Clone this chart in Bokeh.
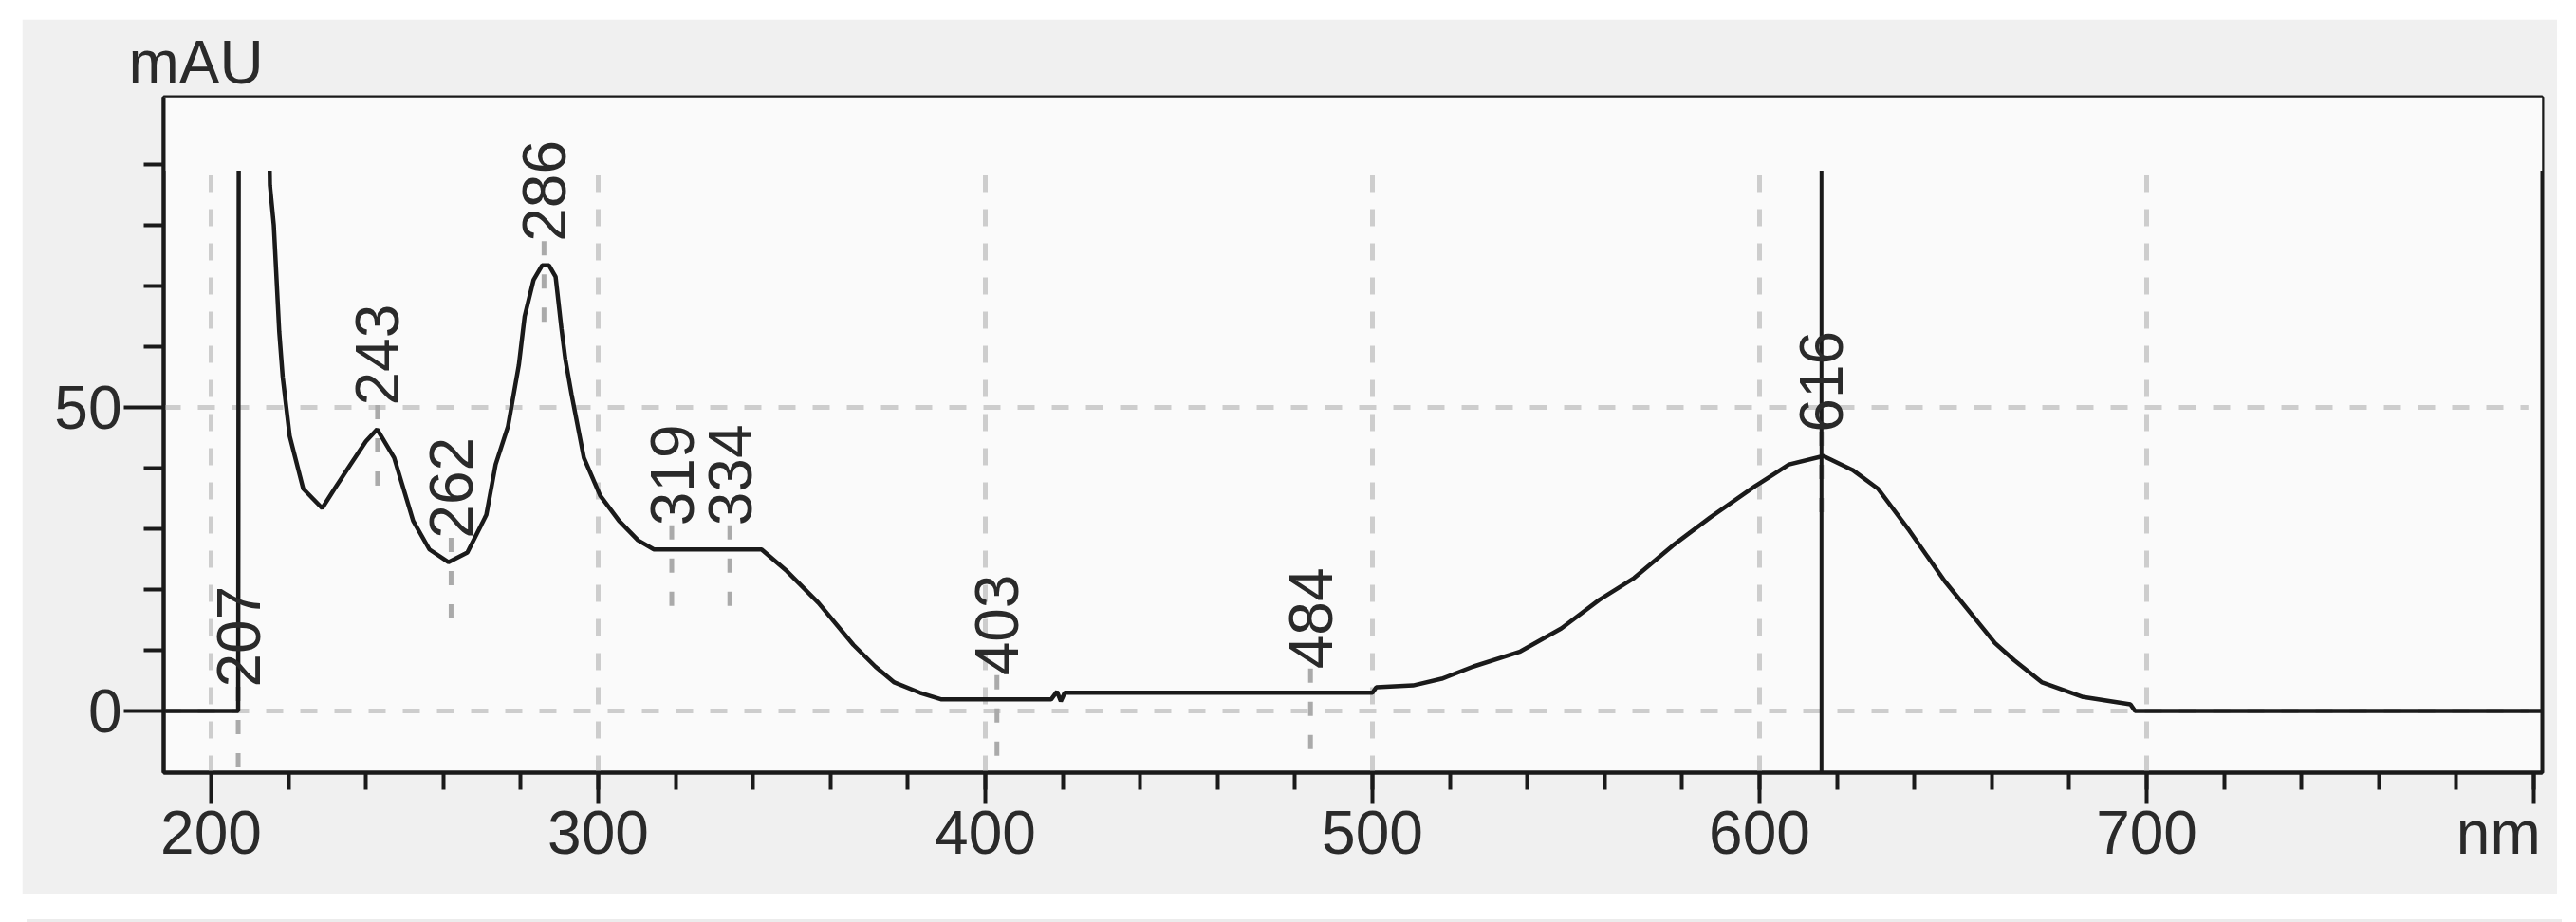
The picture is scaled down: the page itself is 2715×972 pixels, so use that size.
import math
from bokeh.plotting import figure
from bokeh.models import FixedTicker, Range1d, Div
from bokeh.layouts import column, row
from bokeh.core.properties import value
from bokeh.embed import file_html
from bokeh.resources import INLINE

# ---- data ----
wavelength = [188, 207, 207.2, 214.2, 215.2, 216.2, 217.6, 218.5, 220.3, 223.8, 228.7,
              231.9, 236, 240, 242.9, 247.3, 252.2, 256.4, 261.3, 266.2, 271.1, 273.5,
              276.7, 279.5, 281, 283.3, 285.5, 287.3, 289, 290.5, 291.5, 293.1, 296.3,
              300.5, 305.4, 310.3, 314.4, 342.2, 348.8, 356.9, 365.9, 371.6, 376.5,
              383.1, 388.7, 417, 418.5, 419.5, 420.5, 500, 501, 510.5, 517.9, 526,
              538.2, 548.8, 558.6, 567.6, 577.5, 587.3, 598.8, 607.6, 616.5, 624,
              630.6, 638.7, 647.8, 660.8, 665.7, 673, 683.6, 695.8, 697, 802]
absorbance = [0, 0, 130, 130, 86.6, 80, 62.5, 55, 45.3, 36.6, 33.4,
              36.6, 40.6, 44.4, 46.4, 41.7, 31.3, 26.6, 24.5, 26.1, 32.3, 40.6,
              46.9, 57, 65, 71, 73.4, 73.4, 71.5, 63, 58, 52.2, 41.7,
              35.5, 31.3, 28.1, 26.6, 26.6, 23, 17.8, 10.9, 7.3, 4.7,
              3.0, 1.9, 1.9, 3.2, 1.6, 3.0, 3.0, 3.9, 4.2, 5.3, 7.3,
              9.8, 13.6, 18.3, 21.9, 27.2, 31.9, 37, 40.6, 42, 39.7,
              36.6, 29.7, 21.4, 11.2, 8.4, 4.7, 2.3, 1.1, 0, 0]

peak_nm = [207, 243, 262, 286, 319, 334, 403, 484, 616]
peak_au = [0, 46.4, 24.5, 73.4, 26.6, 26.6, 1.9, 3.0, 42.0]
peak_text = ["207", "243", "262", "286", "319", "334", "403", "484", "616"]

x_major = [200, 300, 400, 500, 600, 700]
x_unit_tick = 800
x_minor = list(range(220, 801, 20))
y_major = [0, 50]
y_minor = [10, 20, 30, 40, 60, 70, 80, 90]

cursor_nm = 616
x_lo, x_hi = 187.75, 802.2
y_lo, y_hi = -10.16, 101.1
clip_top = 89  # top of the instrument's drawing area

FONT = "Liberation Sans"
FS = "64px"
TXT = "#2a2a2a"
NBSP = "\u00a0"

p = figure(width=2672, height=922,
           x_range=Range1d(x_lo, x_hi), y_range=Range1d(y_lo, y_hi),
           output_backend="svg", toolbar_location=None,
           min_border_left=149, min_border_right=16,
           min_border_top=82, min_border_bottom=128,
           background_fill_color="#fafafa", border_fill_color="#f0f0f0")
p.xgrid.visible = False
p.ygrid.visible = False
p.outline_line_color = "#1a1a1a"
p.outline_line_width = 4

# title used as the y unit "mAU"
p.title.text = "mAU"
p.title.align = "left"
p.title.offset = -37
p.title.standoff = 2
p.title.text_font = FONT
p.title.text_font_size = FS
p.title.text_font_style = "normal"
p.title.text_color = TXT

# axes
ax = p.xaxis[0]
ax.ticker = FixedTicker(ticks=x_major + [x_unit_tick], minor_ticks=x_minor)
ax.major_label_overrides = {x_unit_tick: "nm" + NBSP}
ax.major_tick_out = 33
ax.major_tick_in = 0
ax.minor_tick_out = 18
ax.minor_tick_in = 0
ax.major_label_standoff = -6
ay = p.yaxis[0]
ay.ticker = FixedTicker(ticks=y_major, minor_ticks=y_minor)
ay.major_tick_out = 42
ay.major_tick_in = 0
ay.minor_tick_out = 21
ay.minor_tick_in = 0
ay.major_label_standoff = 2
for a in (ax, ay):
    a.axis_line_color = "#1a1a1a"
    a.axis_line_width = 4
    a.major_tick_line_color = "#1a1a1a"
    a.major_tick_line_width = 4
    a.minor_tick_line_color = "#1a1a1a"
    a.minor_tick_line_width = 4
    a.major_label_text_font = FONT
    a.major_label_text_font_size = FS
    a.major_label_text_color = TXT

# grid (dashed), drawn as segments
p.segment(x0=x_major, y0=[y_lo] * len(x_major), x1=x_major, y1=[clip_top] * len(x_major),
          line_color="#cdcdcd", line_width=5, line_dash="18 18")
p.segment(x0=[x_lo] * len(y_major), y0=y_major, x1=[798.6] * len(y_major), y1=y_major,
          line_color="#cdcdcd", line_width=5, line_dash="18 18")

# peak markers
p.segment(x0=peak_nm, y0=[v + 4 for v in peak_au], x1=peak_nm, y1=[v - 10 for v in peak_au],
          line_color="#aaaaaa", line_width=5, line_dash="15 20")

# spectrum
p.line(wavelength, absorbance, line_color="#1a1a1a", line_width=4.5)

# cursor
p.segment(x0=[cursor_nm], y0=[y_lo], x1=[cursor_nm], y1=[clip_top],
          line_color="#1a1a1a", line_width=4)

# mask above the instrument drawing area
p.quad(left=[x_lo], right=[x_hi], bottom=[clip_top], top=[y_hi],
       fill_color="#fafafa", line_color=None)

# peak labels
p.text(x=peak_nm, y=peak_au, text=peak_text, angle=math.pi / 2,
       text_align="left", text_baseline="middle", y_offset=-25,
       text_font=value(FONT), text_font_size=value(FS), text_color=TXT)

top_gap = Div(text="", width=20, height=10)
left_gap = Div(text="", width=13, height=20)
mid_gap = Div(text="", width=20, height=12)
left_gap2 = Div(text="", width=13, height=3)
rule = Div(text="", width=2672, height=3, styles={"background-color": "#ececec"})
layout = column(top_gap,
                row(left_gap, p),
                mid_gap,
                row(left_gap2, rule))

open("out.html", "w").write(file_html(layout, INLINE))
